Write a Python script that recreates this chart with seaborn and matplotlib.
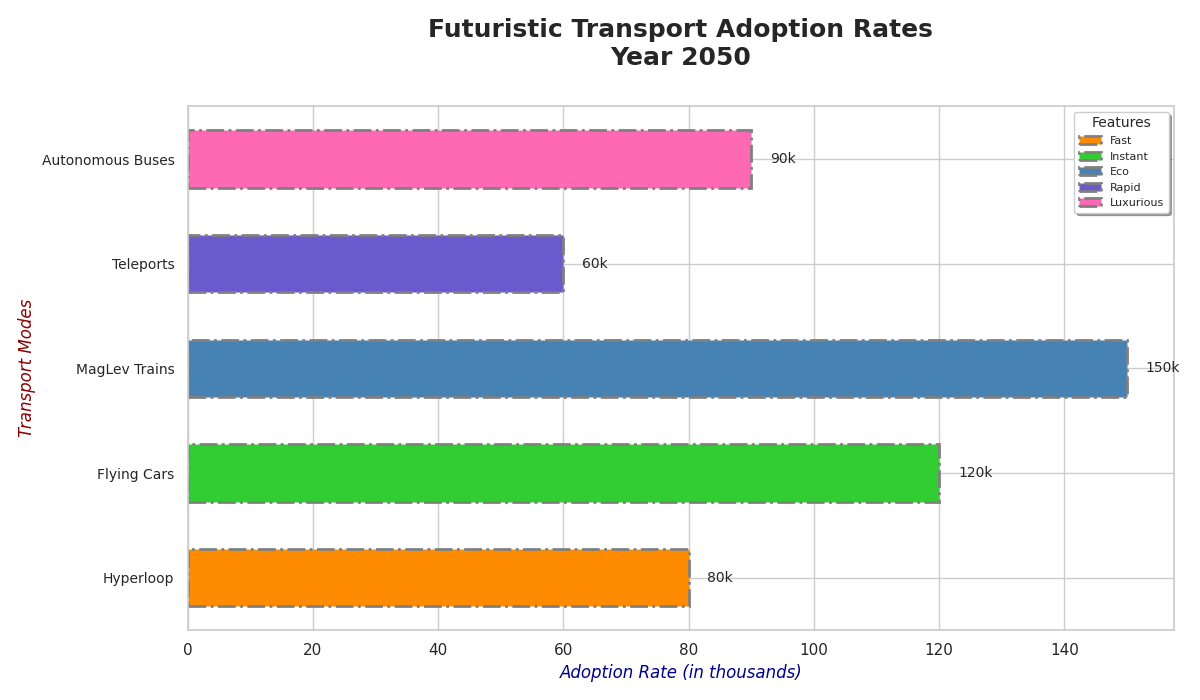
import matplotlib
matplotlib.use("Agg")
import matplotlib.pyplot as plt
import seaborn as sns
import pandas as pd
from matplotlib.patches import Patch

modes = ["Hyperloop", "Flying Cars", "MagLev Trains", "Teleports", "Autonomous Buses"]
rates = [80, 120, 150, 60, 90]
features = ["Fast", "Instant", "Eco", "Rapid", "Luxurious"]
colors = ["#FF8C00", "#32CD32", "#4682B4", "#6A5ACD", "#FF69B4"]

sns.set_theme(style="whitegrid")
df = pd.DataFrame({"mode": modes, "rate": rates})

fig, ax = plt.subplots(figsize=(12, 7), dpi=100)
ax.barh(df["mode"], df["rate"], height=0.55, color=colors,
        edgecolor="gray", linewidth=2, linestyle="-.")
for i, v in enumerate(rates):
    ax.text(v + 3, i, f"{v}k", va="center", fontsize=10)

ax.set_title("Futuristic Transport Adoption Rates\nYear 2050", fontsize=18,
             fontweight="bold", pad=30)
ax.set_xlabel("Adoption Rate (in thousands)", fontsize=12, color="darkblue", style="italic")
ax.set_ylabel("Transport Modes", fontsize=12, color="darkred", style="italic")
ax.tick_params(axis="y", labelsize=10)
ax.tick_params(axis="x", labelsize=11)
ax.set_xlim(0, 157.5)

handles = [Patch(facecolor=c, edgecolor="gray", linewidth=2, linestyle="-.") for c in colors]
ax.legend(handles, features, title="Features", loc="upper right", fontsize=8,
          title_fontsize=10, shadow=True, frameon=True)

plt.tight_layout()
plt.savefig("out.png")
